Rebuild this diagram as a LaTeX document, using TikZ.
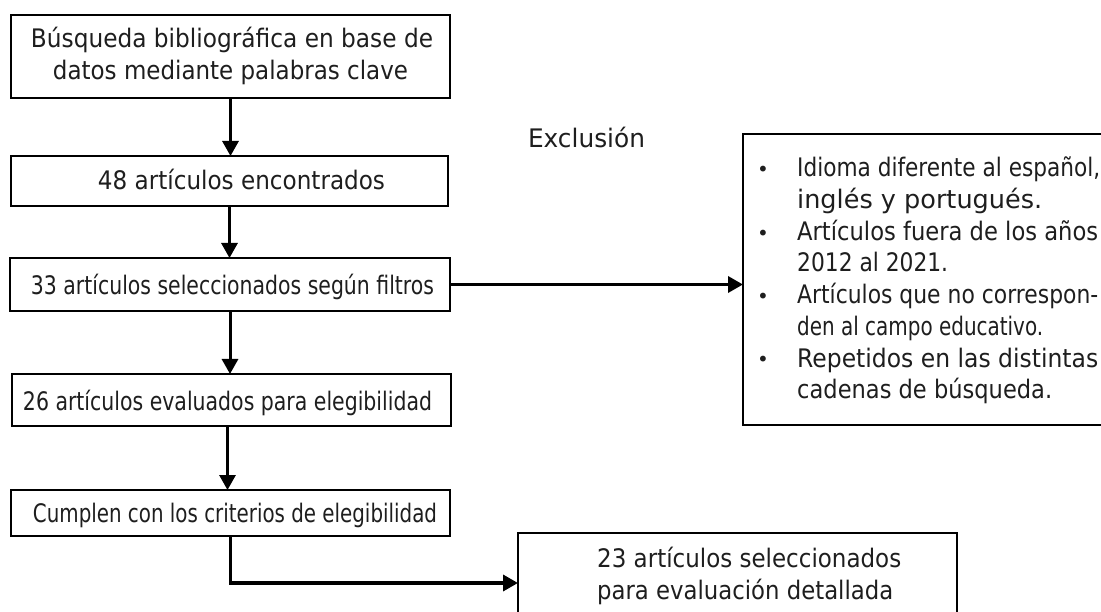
\documentclass[tikz,border=0pt]{standalone}
\usepackage{fontspec}
\setmainfont{DejaVu Sans}
\usetikzlibrary{arrows.meta}
\definecolor{ink}{HTML}{1E1E1E}
\newcommand{\fw}[2]{\resizebox{#1pt}{\height}{#2}}
\begin{document}
\begin{tikzpicture}[x=1pt,y=-1pt,
  box/.style={draw=black, line width=2.4pt, inner sep=0pt, outer sep=0pt, anchor=north west},
  openbox/.style={box, draw=none},
  edge/.style={draw=black, line width=2.4pt},
  txt/.style={anchor=base, inner sep=0pt, text=ink, font=\fontsize{25.5}{32}\selectfont},
  ltxt/.style={txt, anchor=base west},
  bul/.style={anchor=base, inner sep=0pt, text=ink, font=\fontsize{20}{24}\selectfont},
  arr/.style={line width=3pt, draw=black, -{Triangle[length=15pt,width=16pt]}},
]
\useasboundingbox (0,0) rectangle (1101,612);
\fill[white] (0,0) rectangle (1101,612);
\clip (0,0) rectangle (1101,612);
% boxes
\node[box, minimum width=439pt, minimum height=83pt] (b1) at (11,15) {};
\node[box, minimum width=437pt, minimum height=50pt] (b2) at (11,156) {};
\node[box, minimum width=440pt, minimum height=53pt] (b3) at (10,258) {};
\node[box, minimum width=439pt, minimum height=52pt] (b4) at (12,374) {};
\node[box, minimum width=439pt, minimum height=46pt] (b5) at (11,490) {};
\node[openbox, minimum width=439pt, minimum height=100pt] (b6) at (518,533) {};
\node[openbox, minimum width=440pt, minimum height=291pt] (ex) at (743,134) {};
\draw[edge] (b6.south west) -- (b6.north west) -- (b6.north east) -- (b6.south east);
\draw[edge] (ex.north east) -- (ex.north west) -- (ex.south west) -- (ex.south east);
% texts
\node[txt] (t1a) at (232,48) {\fw{402}{Búsqueda bibliográfica en base de}};
\node[txt] (t1b) at (230.5,80) {\fw{355}{datos mediante palabras clave}};
\node[txt] (t2) at (241.5,190) {\fw{287}{48 artículos encontrados}};
\node[txt] (t3) at (232.5,295) {\fw{403}{33 artículos seleccionados según filtros}};
\node[txt] (t4) at (227.5,410) {\fw{409}{26 artículos evaluados para elegibilidad}};
\node[txt] (t5) at (235,522) {\fw{404}{Cumplen con los criterios de elegibilidad}};
\node[ltxt] (t6a) at (597,567) {\fw{304}{23 artículos seleccionados}};
\node[ltxt] (t6b) at (597,599) {\fw{296}{para evaluación detallada}};
\node[txt] (tex) at (586.5,148) {\fw{117}{Exclusión}};
% exclusion list
\node[ltxt] (e1) at (797,177) {\fw{303}{Idioma diferente al español,}};
\node[ltxt] (e2) at (797,208.7) {\fw{245}{inglés y portugués.}};
\node[ltxt] (e3) at (797,240.3) {\fw{301}{Artículos fuera de los años}};
\node[ltxt] (e4) at (797,272) {\fw{151}{2012 al 2021.}};
\node[ltxt] (e5) at (797,303.7) {\fw{301}{Artículos que no correspon-}};
\node[ltxt] (e6) at (797,335.3) {\fw{246}{den al campo educativo.}};
\node[ltxt] (e7) at (797,367) {\fw{301}{Repetidos en las distintas}};
\node[ltxt] (e8) at (797,398.7) {\fw{255}{cadenas de búsqueda.}};
\node[bul] (u1) at (763,177) {•};
\node[bul] (u2) at (763,240.3) {•};
\node[bul] (u3) at (763,303.7) {•};
\node[bul] (u4) at (763,367) {•};
% connectors
\draw[arr] (b1.south) -- (b1.south |- b2.north);
\draw[arr] (b2.south) -- (b2.south |- b3.north);
\draw[arr] (b3.south) -- (b3.south |- b4.north);
\draw[arr] ([xshift=-4pt]b4.south) -- ([xshift=-4pt]b4.south |- b5.north);
\draw[arr, line width=3.5pt] (b5.south) |- (b6.west);
\draw[arr, line width=3.5pt] (b3.east) -- (b3.east -| ex.west);
\end{tikzpicture}
\end{document}
